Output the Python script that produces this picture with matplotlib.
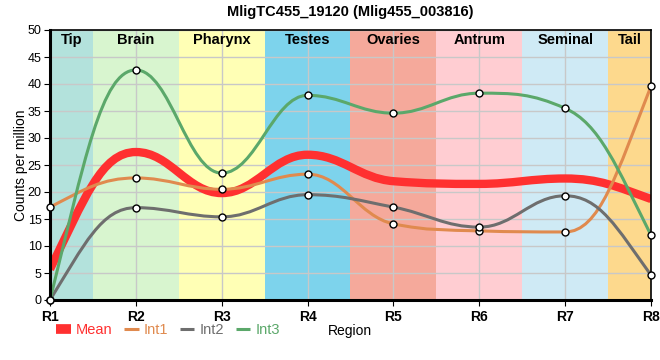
import numpy as np
import matplotlib.pyplot as plt
from matplotlib.path import Path
from matplotlib.patches import PathPatch
from matplotlib.lines import Line2D

plt.rcParams['font.family'] = ['Liberation Sans', 'DejaVu Sans']

# ====================== DATA ======================
positions = ['R1', 'R2', 'R3', 'R4', 'R5', 'R6', 'R7', 'R8']

mean_vals = [5.7, 27.4, 19.8, 26.9, 22.0, 21.5, 22.5, 18.7]
int1_vals = [17.2, 22.6, 20.5, 23.3, 14.1, 12.8, 12.6, 39.6]
int2_vals = [0.0, 17.1, 15.4, 19.5, 17.2, 13.5, 19.3, 4.6]
int3_vals = [0.0, 42.6, 23.5, 37.9, 34.6, 38.3, 35.5, 12.0]

regions = ['Tip', 'Brain', 'Pharynx', 'Testes', 'Ovaries', 'Antrum', 'Seminal', 'Tail']
region_start = [0, 0.5, 1.5, 2.5, 3.5, 4.5, 5.5, 6.5]
region_end = [0.5, 1.5, 2.5, 3.5, 4.5, 5.5, 6.5, 7]
region_colors = ['#b3e2dc', '#d8f5cf', '#ffffb5', '#7dd3ec',
                 '#f5a99b', '#ffcdd2', '#cfeaf5', '#fdd98d']

# ====================== HELPERS ======================
def spline_path(x, y, smooth=1.5):
    # smooth spline through the points, flat at local extremes
    n = len(x)
    d = smooth + 1
    lc = [(x[i], y[i]) for i in range(n)]
    rc = [(x[i], y[i]) for i in range(n)]
    for i in range(1, n - 1):
        px, py = x[i - 1], y[i - 1]
        nx, ny = x[i + 1], y[i + 1]
        lx, ly = (smooth * x[i] + px) / d, (smooth * y[i] + py) / d
        rx, ry = (smooth * x[i] + nx) / d, (smooth * y[i] + ny) / d
        corr = (ry - ly) * (rx - x[i]) / (rx - lx) + y[i] - ry
        ly += corr
        ry += corr
        if ly > py and ly > y[i]:
            ly = max(py, y[i]); ry = 2 * y[i] - ly
        elif ly < py and ly < y[i]:
            ly = min(py, y[i]); ry = 2 * y[i] - ly
        if ry > ny and ry > y[i]:
            ry = max(ny, y[i]); ly = 2 * y[i] - ry
        elif ry < ny and ry < y[i]:
            ry = min(ny, y[i]); ly = 2 * y[i] - ry
        lc[i] = (lx, ly)
        rc[i] = (rx, ry)

    # end points: steer along the secant, corrected by the neighbour's slope
    for i, j in [(0, 1), (n - 1, n - 2)]:
        h = x[j] - x[i]
        s = (y[j] - y[i]) / h
        cx, cy = (lc[j] if j > i else rc[j])
        tj = (y[j] - cy) / (x[j] - cx)
        t = (3 * s - tj) / 2
        c = (x[i] + h / d, y[i] + t * h / d)
        if j > i:
            rc[i] = c
        else:
            lc[i] = c

    verts = [(x[0], y[0])]
    codes = [Path.MOVETO]
    for i in range(1, n):
        verts += [rc[i - 1], lc[i], (x[i], y[i])]
        codes += [Path.CURVE4] * 3
    return Path(verts, codes)


# ====================== PLOT ======================
fig = plt.figure(figsize=(6.6, 3.6), dpi=100)
ax = fig.add_axes([50 / 660, 60 / 360, 601 / 660, 270 / 360])

xs = list(range(len(positions)))

for a, b, c, name in zip(region_start, region_end, region_colors, regions):
    ax.axvspan(a, b, color=c, zorder=0.1, lw=0)
    ax.text((a + b) / 2, 48.1, name, ha='center', va='center',
            fontsize=10.5, fontweight='bold', zorder=3)

series = [
    ('Mean', mean_vals, '#ff3030', 6, False),
    ('Int1', int1_vals, '#e08a4e', 2.2, True),
    ('Int2', int2_vals, '#6e6e6e', 2.2, True),
    ('Int3', int3_vals, '#5ba86a', 2.2, True),
]

handles = []
for name, vals, color, lw, dots in series:
    patch = PathPatch(spline_path(xs, vals), fill=False, edgecolor=color,
                      lw=lw, capstyle='butt', joinstyle='round', zorder=2)
    ax.add_patch(patch)
    if dots:
        ax.plot(xs, vals, 'o', ms=5, mfc='white', mec='black', mew=1,
                zorder=4, clip_on=False)
    handles.append(Line2D([], [], color=color, lw=lw if name != 'Mean' else 7,
                          solid_capstyle='butt'))

ax.set_xlim(0, 7)
ax.set_ylim(0, 50)
ax.set_xticks(xs)
ax.set_xticklabels(positions, fontweight='bold', fontsize=10)
ax.set_yticks(np.arange(0, 51, 5))
ax.tick_params(axis='y', labelsize=9, length=4, pad=2)
ax.tick_params(axis='x', length=4, pad=3)

ax.set_axisbelow(True)
ax.grid(True, color='#c8c8c8', lw=1, zorder=0.5)

for side in ['left', 'bottom']:
    ax.spines[side].set_linewidth(2.2)
for side in ['top', 'right']:
    ax.spines[side].set_linewidth(1.2)

ax.set_ylabel('Counts per million', fontsize=10)
ax.yaxis.set_label_coords(-22 / 601, 0.5)
ax.set_title('MligTC455_19120 (Mlig455_003816)', fontsize=10.5,
             fontweight='bold', pad=10)

leg = fig.legend(handles, [s[0] for s in series], loc='center left',
                 bbox_to_anchor=(56 / 660, 1 - 330 / 360), ncol=4, frameon=False,
                 fontsize=10.5, handlelength=1.0, handletextpad=0.35,
                 columnspacing=0.8, borderaxespad=0, borderpad=0)
for txt, s in zip(leg.get_texts(), series):
    txt.set_color(s[2])
fig.text(350 / 660, 1 - 331 / 360, 'Region', ha='center', va='center', fontsize=10)

plt.savefig('out.png', dpi=100)
